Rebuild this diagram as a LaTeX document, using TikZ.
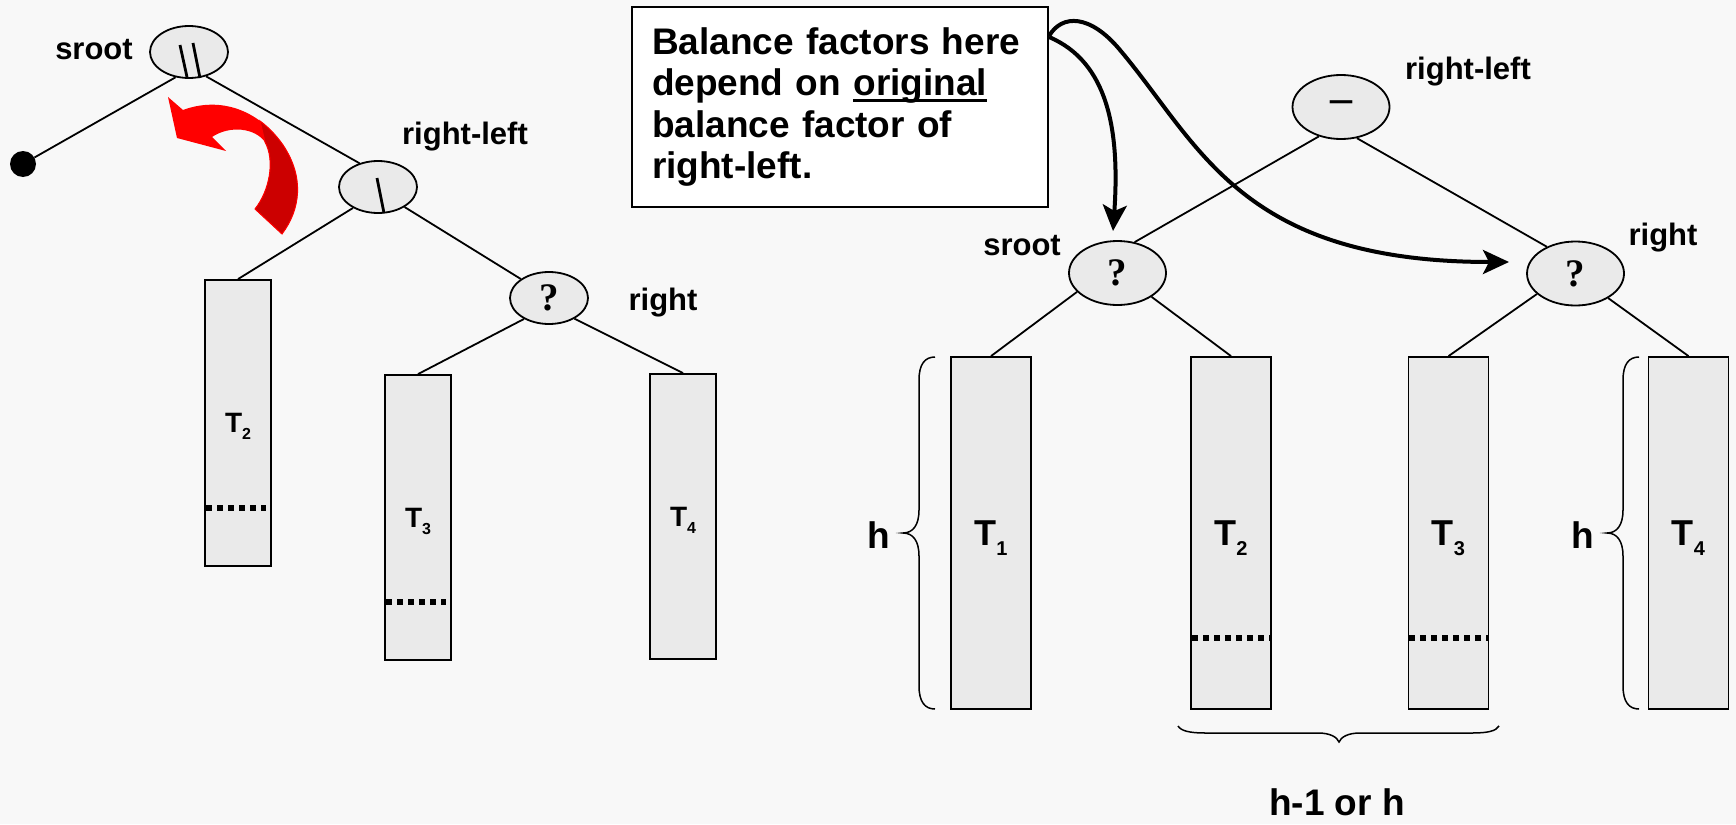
\documentclass[tikz,border=0pt]{standalone}
\usepackage{fontspec}
\setmainfont{Liberation Sans}
\newfontfamily\qfont{Liberation Serif}
\usetikzlibrary{shapes.geometric,arrows.meta}
\definecolor{bgc}{RGB}{248,248,248}
\definecolor{boxfill}{RGB}{234,234,234}
\definecolor{arrred}{RGB}{255,0,0}
\definecolor{arrdark}{RGB}{204,0,0}
\newcommand\fs[1]{\fontsize{#1}{#1}\selectfont}
\newcommand\myuline[1]{\setbox0\hbox{#1}\rlap{\rule[-6.5pt]{\wd0}{2.8pt}}\box0}
\newcommand\Tsub[3]{T\smash{\raisebox{-#3pt}{\fs{#2}#1}}}
\begin{document}
\begin{tikzpicture}[x=1pt,y=-1pt,
  bnode/.style={ellipse,draw,line width=1.8pt,fill=boxfill,inner sep=0pt},
  lnode/.style={bnode,minimum width=78pt,minimum height=52pt},
  rnode/.style={bnode,minimum width=97pt,minimum height=64pt},
  subtree/.style={rectangle,draw,line width=1.8pt,fill=boxfill,inner sep=0pt},
  ltree/.style={subtree,minimum width=66pt,minimum height=285pt,font=\bfseries\fs{28}},
  rtree/.style={subtree,minimum width=80pt,minimum height=352pt,font=\bfseries\fs{36}},
  treeline/.style={line width=1.8pt},
  lbl/.style={font=\bfseries\fs{31},anchor=base,inner sep=0pt},
  hlbl/.style={font=\bfseries\fs{37},anchor=base,inner sep=0pt},
  qmark/.style={font=\qfont\bfseries\fs{39}},
  dotline/.style={line width=5.5pt,dash pattern=on 6pt off 5pt},
  notearrow/.style={-{Stealth[length=26pt,width=24pt,inset=6pt]},line width=4pt},
  bracel/.style={line width=1.5pt}
]
\useasboundingbox (0,0) rectangle (1736,824);
\fill[bgc] (0,0) rectangle (1736,824);

% ---------- left tree ----------
\node[lnode] (sroot) at (189,52) {};
\node[lnode] (rl) at (378,187) {};
\node[lnode,qmark] (q) at (549,298) {?};
\node[circle,fill=black,minimum size=26pt,inner sep=0pt] (dot) at (23,164) {};
\node[ltree,minimum height=286pt] (T2L) at (238,423) {\Tsub{2}{16}{7}};
\node[ltree] (T3L) at (418,517.5) {\Tsub{3}{16}{7}};
\node[ltree] (T4L) at (683,516.5) {\Tsub{4}{16}{7}};

\draw[line width=2.8pt] (180,45) -- (187,77) (193,43) -- (200,78);
\draw[line width=2.8pt] (377,178) -- (384,213);

\draw[treeline] (sroot.-118) -- (dot);
\draw[treeline] (sroot.-55) -- (rl.128);
\draw[treeline] (rl.-140) -- (T2L.north);
\draw[treeline] (rl.-37) -- (q.146);
\draw[treeline] (q.-140) -- (T3L.north);
\draw[treeline] (q.-39) -- (T4L.north);

\draw[dotline] (206,508) -- (266,508);
\draw[dotline] (386,602) -- (446,602);

\node[lbl] (lsroot) at (94,60) {sroot};
\node[lbl] (lrl) at (465,144) {right-left};
\node[lbl] (lright) at (663,310) {right};

% red rotation arrow
\fill[arrred] (168,97) -- (183,110) .. controls (215,98) and (255,105) .. (283,145)
  .. controls (305,178) and (300,210) .. (282,234) -- (255,209)
  .. controls (270,190) and (275,160) .. (265,142)
  .. controls (255,128) and (230,125) .. (212,137) -- (226,151) -- (177,138) -- cycle;
\filldraw[fill=arrdark,draw=arrred,line width=1pt] (260,121) .. controls (268.25,127.1) and (276,135) .. (283,145)
  .. controls (305,178) and (300,210) .. (282,234) -- (255,209)
  .. controls (270,190) and (275,160) .. (265,142) -- cycle;

% ---------- right tree ----------
\node[rnode,font=\qfont\bfseries\fs{44}] (rl2) at (1341,107) {–};
\node[rnode,qmark] (sroot2) at (1117.5,273) {?};
\node[rnode,qmark] (right2) at (1575.5,273.5) {?};
\node[rtree] (T1R) at (991,533) {\Tsub{1}{20}{10}};
\node[rtree] (T2R) at (1231,533) {\Tsub{2}{20}{10}};
\node[rtree] (T3R) at (1448.5,533) {\Tsub{3}{20}{10}};
\node[rtree] (T4R) at (1688.5,533) {\Tsub{4}{20}{10}};

\draw[treeline] (rl2.-127) -- (sroot2.61);
\draw[treeline] (rl2.-63) -- (right2.137);
\draw[treeline] (sroot2.-155) -- (T1R.north);
\draw[treeline] (sroot2.-35) -- (T2R.north);
\draw[treeline] (right2.-152) -- (T3R.north);
\draw[treeline] (right2.-37) -- (T4R.north);

\draw[dotline] (1192,638) -- (1270,638);
\draw[dotline] (1409,638) -- (1488,638);

\node[lbl] (rrl) at (1468,80) {right-left};
\node[lbl] (rsroot) at (1022,255) {sroot};
\node[lbl] (rright) at (1663,245) {right};

% braces
\draw[bracel] (935,357) .. controls (925,357) and (919,364) .. (919,380) -- (919,510)
  .. controls (919,525) and (913,533) .. (903,533) .. controls (913,533) and (919,541) .. (919,556)
  -- (919,686) .. controls (919,702) and (925,709) .. (935,709);
\begin{scope}[xshift=704pt]
\draw[bracel] (935,357) .. controls (925,357) and (919,364) .. (919,380) -- (919,510)
  .. controls (919,525) and (913,533) .. (903,533) .. controls (913,533) and (919,541) .. (919,556)
  -- (919,686) .. controls (919,702) and (925,709) .. (935,709);
\end{scope}
\draw[bracel] (1178,726) .. controls (1181,731) and (1190,733) .. (1205,733) -- (1318,733)
  .. controls (1330,733) and (1337,737) .. (1339,742) .. controls (1341,737) and (1348,733) .. (1360,733)
  -- (1472,733) .. controls (1488,733) and (1496,731) .. (1499,726);

\node[hlbl] (h1) at (879,548) {h};
\node[hlbl] (h4) at (1583,548) {h};
\node[hlbl] (hh) at (1337,815) {h-1 or h};

% ---------- note ----------
\node[draw,line width=2pt,fill=white,anchor=north west,minimum width=416pt,minimum height=200pt,
  text width=376pt,inner xsep=20pt,inner ysep=0pt,align=left,
  font=\bfseries\fontsize{37}{41.5}\selectfont] (note) at (631,6)
  {Balance factors here\\depend on \myuline{original}\\balance factor of\\right-left.};

\coordinate (a1e) at (1113,231);
\coordinate (a2e) at (1509,262);
\draw[notearrow] ([yshift=-31pt]note.north east) .. controls (1108,62) and (1120,130) .. (a1e);
\draw[notearrow] ([yshift=-30pt]note.north east) .. controls (1062,14) and (1090,14) .. (1120,50)
  .. controls (1200,145) and (1240,262) .. (a2e);
\end{tikzpicture}
\end{document}
